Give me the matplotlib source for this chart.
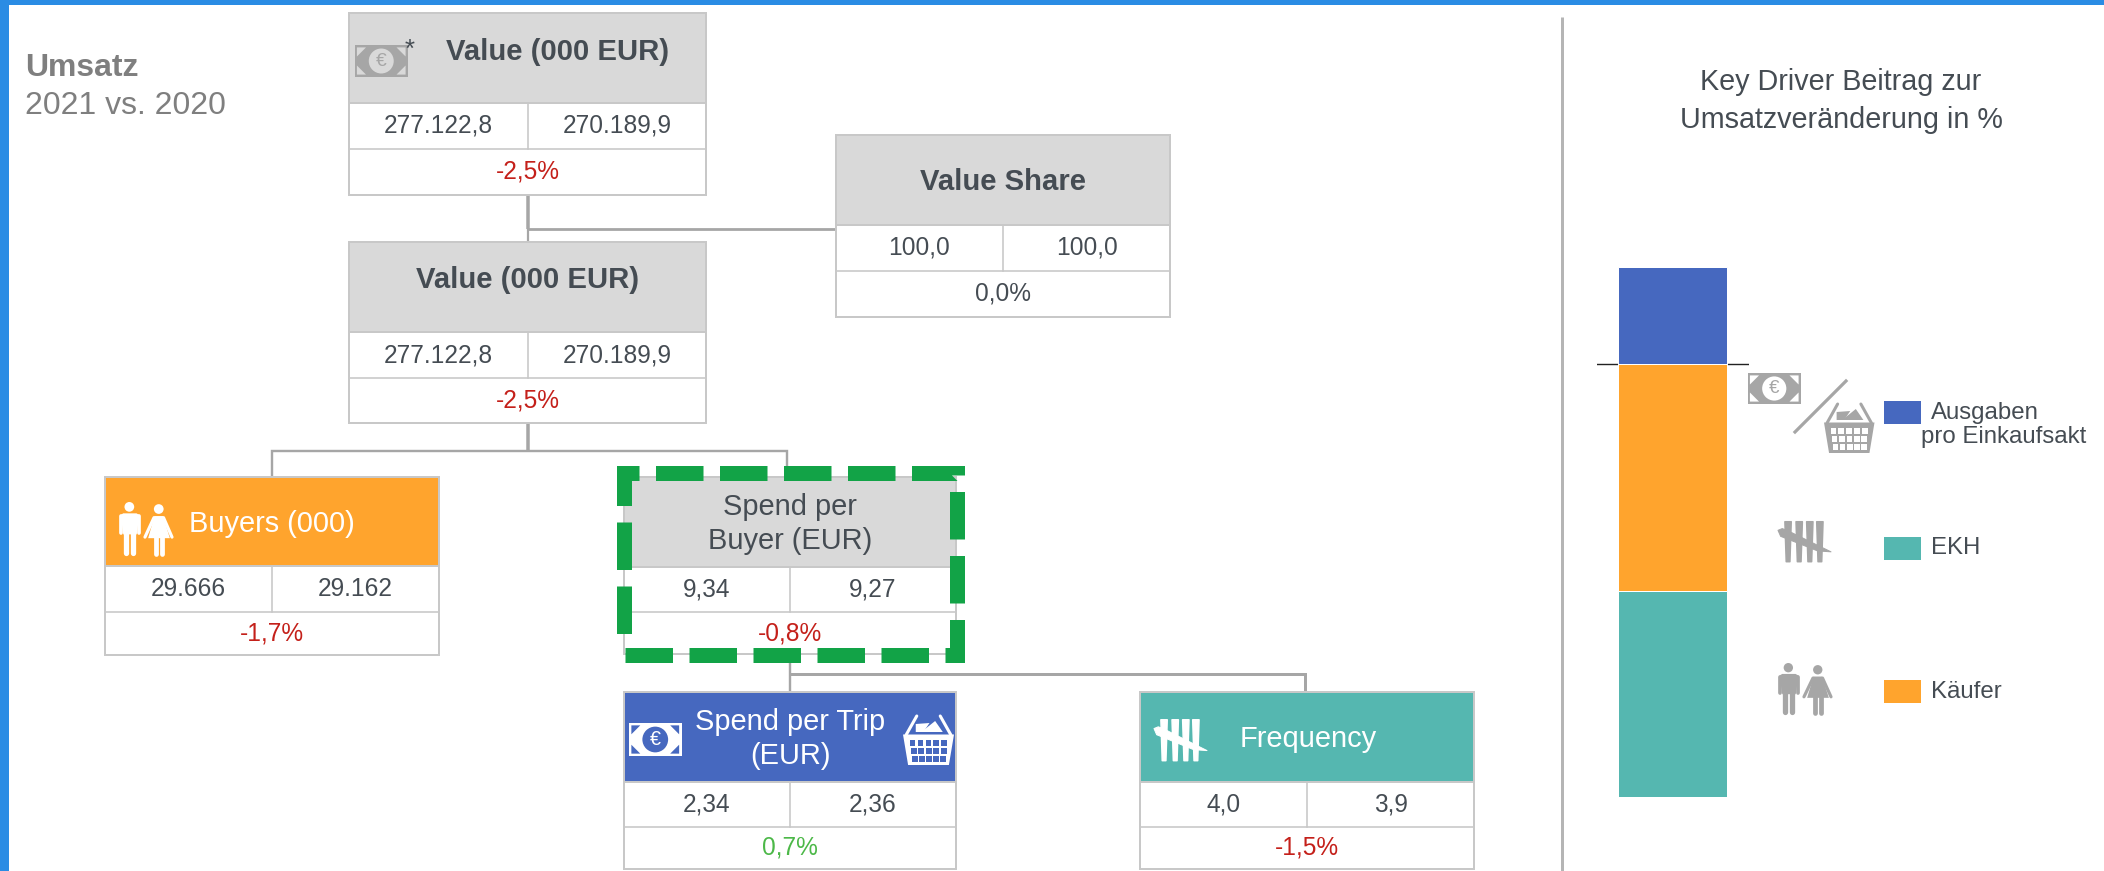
import matplotlib
matplotlib.use("Agg")
import matplotlib.pyplot as plt
from matplotlib.patches import Rectangle, Circle, Polygon

plt.rcParams['font.family'] = ['Liberation Sans', 'DejaVu Sans']
plt.rcParams['lines.scale_dashes'] = False

# tree values
titles = ["Value (000 EUR)", "Value Share", "Value (000 EUR)", "Buyers (000)",
          "Spend per\nBuyer (EUR)", "Spend per Trip\n(EUR)", "Frequency"]
left_values = ["277.122,8", "100,0", "277.122,8", "29.666", "9,34", "2,34", "4,0"]
right_values = ["270.189,9", "100,0", "270.189,9", "29.162", "9,27", "2,36", "3,9"]
changes = ["-2,5%", "0,0%", "-2,5%", "-1,7%", "-0,8%", "0,7%", "-1,5%"]

# bar chart values
driver_labels = ["Ausgaben\npro Einkaufsakt", "Käufer", "EKH"]
driver_values = [0.71, -1.67, -1.51]

heading = "Umsatz"
subheading = "2021 vs. 2020"
bar_title = "Key Driver Beitrag zur\nUmsatzveränderung in %"

GREY = "#D9D9D9"
ORANGE = "#FFA42D"
BLUE = "#4668BF"
TEAL = "#55B7B0"
LINE = "#A6A6A6"
BORDER = "#C8C8C8"
DARK = "#454C53"
RED = "#C4201A"
POS = "#4CB848"

# x0, x1, header top, header bottom, row bottom, box bottom, fill, title x, bold
boxes = [
    (349, 706, 13, 103, 149, 195, GREY, 558, True),
    (836, 1170, 135, 225, 271, 317, GREY, 1003, True),
    (349, 706, 242, 332, 378, 423, GREY, 528, True),
    (105, 439, 477, 566, 612, 655, ORANGE, 272, False),
    (624, 956, 477, 567, 612, 654, GREY, 790, False),
    (624, 956, 692, 782, 827, 869, BLUE, 790, False),
    (1140, 1474, 692, 782, 827, 869, TEAL, 1308, False),
]

fig = plt.figure(figsize=(2104 / 72, 871 / 72), dpi=72)
ax = fig.add_axes([0, 0, 1, 1])
ax.set_xlim(0, 2104)
ax.set_ylim(871, 0)
ax.axis("off")


def draw_box(i):
    x0, x1, y0, y1, y2, y3, fill, tx, bold = boxes[i]
    xm = (x0 + x1) / 2
    ax.add_patch(Rectangle((x0, y0), x1 - x0, y3 - y0, fc="white", ec=BORDER, lw=2, zorder=2))
    ax.add_patch(Rectangle((x0, y0), x1 - x0, y1 - y0, fc=fill, ec=BORDER, lw=2, zorder=2))
    ax.plot([x0, x1], [y2, y2], color=BORDER, lw=1.6, zorder=3)
    ax.plot([xm, xm], [y1, y2], color=BORDER, lw=1.6, zorder=3)
    color = DARK if fill == GREY else "white"
    dy = 2 + (-8 if i == 0 else (-9 if i == 2 else 0))
    ax.text(tx, (y0 + y1) / 2 + dy, titles[i], ha="center", va="center",
            fontsize=29.2 if bold else 29, color=color,
            fontweight="bold" if bold else "normal", linespacing=1.28, zorder=4)
    ax.text((x0 + xm) / 2, (y1 + y2) / 2, left_values[i], ha="center", va="center",
            fontsize=24.5, color=DARK, zorder=4)
    ax.text((xm + x1) / 2, (y1 + y2) / 2, right_values[i], ha="center", va="center",
            fontsize=24.5, color=DARK, zorder=4)
    ch = changes[i]
    col = RED if ch.startswith("-") else (POS if ch != "0,0%" else DARK)
    ax.text(xm, (y2 + y3) / 2, ch, ha="center", va="center", fontsize=24.5, color=col, zorder=4)


def note_icon(x0, y0, x1, y1, color, bg):
    w, h = x1 - x0, y1 - y0
    ax.add_patch(Rectangle((x0, y0), w, h, fc=color, ec="none", zorder=5))
    m = 0.045 * w
    t = 0.17 * w
    for cx, sx in ((x0 + m, 1), (x1 - m, -1)):
        for cy, sy in ((y0 + m, 1), (y1 - m, -1)):
            ax.add_patch(Polygon([(cx, cy), (cx + sx * t, cy), (cx, cy + sy * t)], fc=bg, ec="none", zorder=6))
    ax.add_patch(Circle(((x0 + x1) / 2, (y0 + y1) / 2), h * 0.39, fc=bg, ec="none", zorder=6))
    ax.text((x0 + x1) / 2, (y0 + y1) / 2, "€", ha="center", va="center", fontsize=h * 0.6,
            color=color, zorder=7)


def basket_icon(x0, y0, x1, y1, color, bg):
    w, h = x1 - x0, y1 - y0
    fx = lambda u: x0 + u * w
    fy = lambda v: y0 + v * h
    lw = w * 0.06
    ax.plot([fx(0.06), fx(0.27)], [fy(0.40), fy(0.02)], color=color, lw=lw, zorder=5, solid_capstyle="round")
    ax.plot([fx(0.94), fx(0.73)], [fy(0.40), fy(0.02)], color=color, lw=lw, zorder=5, solid_capstyle="round")
    ax.add_patch(Polygon([(fx(0.25), fy(0.34)), (fx(0.25), fy(0.18)), (fx(0.52), fy(0.16)), (fx(0.4), fy(0.34))],
                         fc=color, ec="none", zorder=5))
    ax.add_patch(Polygon([(fx(0.36), fy(0.34)), (fx(0.63), fy(0.12)), (fx(0.78), fy(0.34))],
                         fc=color, ec="none", zorder=5))
    ax.add_patch(Polygon([(fx(0), fy(0.39)), (fx(1), fy(0.39)), (fx(0.9), fy(1)), (fx(0.1), fy(1))],
                         fc=color, ec="none", zorder=5))
    for row in range(3):
        for col in range(5):
            shift = 0.02 * row
            u = 0.11 + shift + col * (0.78 - 2 * shift) / 5 + 0.02
            ax.add_patch(Rectangle((fx(u), fy(0.5 + row * 0.16)), 0.115 * w, 0.115 * h, fc=bg, ec="none", zorder=6))


def tally_icon(x0, y0, x1, y1, color):
    w, h = x1 - x0, y1 - y0
    fx = lambda u: x0 + u * w
    fy = lambda v: y0 + v * h
    for u in (0.19, 0.40, 0.60, 0.79):
        ax.add_patch(Polygon([(fx(u - 0.06), fy(0.04)), (fx(u + 0.06), fy(0.04)), (fx(u + 0.035), fy(0.97)),
                              (fx(u - 0.035), fy(0.97))], fc=color, ec=color, lw=1.5, joinstyle="round", zorder=5))
    ax.add_patch(Polygon([(fx(0), fy(0.24)), (fx(0.08), fy(0.2)), (fx(0.17), fy(0.24)), (fx(1), fy(0.74)),
                          (fx(0.75), fy(0.72)), (fx(0.05), fy(0.38))], fc=color, ec=color, lw=1,
                         joinstyle="round", zorder=5))


def people_icon(x0, y0, x1, y1, color):
    w, h = x1 - x0, y1 - y0
    fx = lambda u: x0 + u * w
    fy = lambda v: y0 + v * h
    # man
    ax.add_patch(Circle((fx(0.195), fy(0.09)), 0.09 * h, fc=color, ec="none", zorder=5))
    ax.add_patch(Polygon([(fx(0.03), fy(0.24)), (fx(0.08), fy(0.21)), (fx(0.33), fy(0.21)), (fx(0.385), fy(0.24)),
                          (fx(0.335), fy(0.6)), (fx(0.08), fy(0.6))], fc=color, ec="none", zorder=5))
    for u in (0.035, 0.38):
        ax.plot([fx(u), fx(u)], [fy(0.26), fy(0.58)], color=color, lw=0.07 * w, solid_capstyle="round", zorder=5)
    for u in (0.14, 0.27):
        ax.plot([fx(u), fx(u)], [fy(0.55), fy(0.95)], color=color, lw=0.1 * w, solid_capstyle="round", zorder=5)
    # woman
    ax.add_patch(Circle((fx(0.75), fy(0.13)), 0.09 * h, fc=color, ec="none", zorder=5))
    ax.add_patch(Polygon([(fx(0.67), fy(0.26)), (fx(0.83), fy(0.26)), (fx(0.96), fy(0.67)), (fx(0.55), fy(0.67))],
                         fc=color, ec="none", joinstyle="round", zorder=5))
    ax.plot([fx(0.66), fx(0.49)], [fy(0.29), fy(0.65)], color=color, lw=0.06 * w, solid_capstyle="round", zorder=5)
    ax.plot([fx(0.84), fx(1.0)], [fy(0.29), fy(0.65)], color=color, lw=0.06 * w, solid_capstyle="round", zorder=5)
    for u in (0.7, 0.81):
        ax.plot([fx(u), fx(u)], [fy(0.65), fy(0.96)], color=color, lw=0.09 * w, solid_capstyle="round", zorder=5)


# blue window frame
ax.add_patch(Rectangle((0, 0), 2104, 5, fc="#2A8CE4", ec="none", zorder=1))
ax.add_patch(Rectangle((0, 0), 9, 871, fc="#2A8CE4", ec="none", zorder=1))

# connectors
ax.plot([527.5, 527.5], [195, 229], color=LINE, lw=3.5, solid_capstyle="butt", zorder=1)
ax.plot([527.5, 527.5], [229, 242], color=LINE, lw=2.2, solid_capstyle="butt", zorder=1)
ax.plot([527.5, 836], [229, 229], color=LINE, lw=2.8, zorder=1)
ax.plot([527.5, 527.5], [423, 451], color=LINE, lw=3.5, solid_capstyle="butt", zorder=1)
ax.plot([272, 272, 787, 787], [477, 451, 451, 477], color=LINE, lw=2.4, zorder=1, solid_joinstyle="miter")
ax.plot([789.5, 789.5], [654, 692], color=LINE, lw=2.4, solid_capstyle="butt", zorder=1)
ax.plot([789.5, 1305, 1305], [674, 674, 692], color=LINE, lw=3, zorder=1, solid_joinstyle="miter")

for i in range(len(titles)):
    draw_box(i)

# green dashed highlight, clockwise from just above the bottom left corner
ax.plot([623.5, 623.5, 956.5, 956.5, 623.5, 623.5], [649.5, 473, 473, 655, 655, 649.5], color="#12A347",
        lw=15, linestyle=(47.5, (47.5, 16.5)), dash_capstyle="butt", dash_joinstyle="miter", zorder=8)

# left heading
ax.text(25, 76, heading, fontsize=32, fontweight="bold", color="#7F7F7F", va="baseline")
ax.text(25, 114, subheading, fontsize=32, color="#7F7F7F", va="baseline")

# icons in the tree
note_icon(354.5, 45, 408, 77, LINE, GREY)
ax.text(410, 50, "*", ha="center", va="center", fontsize=26, color=DARK, zorder=7)
people_icon(119, 502, 172, 556, "white")
note_icon(629, 723, 681.5, 756, "white", BLUE)
basket_icon(903, 715, 954, 765, "white", BLUE)
tally_icon(1154, 718, 1207, 762, "white")

# right panel
ax.plot([1562, 1562], [17, 871], color="#B5B5B5", lw=3, solid_capstyle="butt", zorder=1)
ax.text(1841, 101, bar_title, ha="center", va="center", fontsize=28.7, color=DARK, linespacing=1.41)

bar_ax = fig.add_axes([1596.5 / 2104, 1 - 797 / 871, 152.5 / 2104, 530 / 871])
bar_ax.axis("off")
bar_ax.set_xlim(-0.5, 0.5)
low = driver_values[1] + driver_values[2]
bar_ax.set_ylim(low, driver_values[0])
bar_ax.axhline(0, color="#222222", lw=1.4, zorder=1)
bar_w = 109 / 152.5
bar_ax.bar(0, driver_values[0], width=bar_w, color=BLUE, edgecolor="white", lw=1, zorder=2)
bar_ax.bar(0, driver_values[1], width=bar_w, color=ORANGE, edgecolor="white", lw=1, zorder=2)
bar_ax.bar(0, driver_values[2], bottom=driver_values[1], width=bar_w, color=TEAL, edgecolor="white", lw=1, zorder=2)

note_icon(1747.5, 373, 1801, 404, LINE, "white")
ax.plot([1795, 1846], [432, 381], color=LINE, lw=3.2, zorder=5)
basket_icon(1824, 403, 1874.5, 453, LINE, "white")
tally_icon(1778, 520, 1831, 563, LINE)
people_icon(1778, 663, 1831, 715, LINE)

# legend
ax.add_patch(Rectangle((1883.5, 401), 37.5, 23, fc=BLUE, ec="none"))
ax.add_patch(Rectangle((1883.5, 537), 37.5, 23, fc=TEAL, ec="none"))
ax.add_patch(Rectangle((1883.5, 680), 37.5, 23, fc=ORANGE, ec="none"))
first, second = driver_labels[0].split("\n")
ax.text(1931, 413, first, fontsize=24, color=DARK, va="center")
ax.text(1921, 437, second, fontsize=24, color=DARK, va="center")
ax.text(1931, 548, driver_labels[2], fontsize=24, color=DARK, va="center")
ax.text(1931, 692, driver_labels[1], fontsize=24, color=DARK, va="center")

fig.savefig("out.png", dpi=72)
